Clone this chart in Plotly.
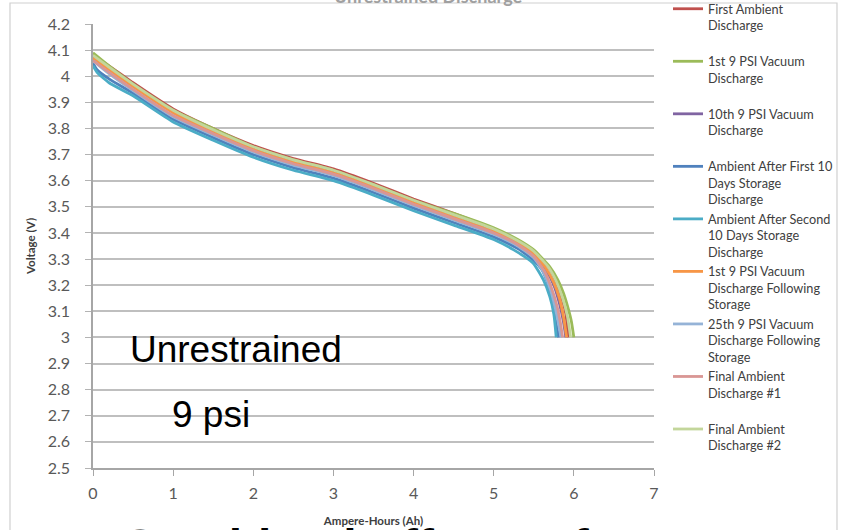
import plotly.graph_objects as go

# ---------------- data ----------------
series_names = [
    "First Ambient<br>Discharge<br> ",
    "1st 9 PSI Vacuum<br>Discharge<br> ",
    "10th 9 PSI Vacuum<br>Discharge<br> ",
    "Ambient After First 10<br>Days Storage<br>Discharge",
    "Ambient After Second<br>10 Days Storage<br>Discharge",
    "1st 9 PSI Vacuum<br>Discharge Following<br>Storage",
    "25th 9 PSI Vacuum<br>Discharge Following<br>Storage",
    "Final Ambient<br>Discharge #1<br> ",
    "Final Ambient<br>Discharge #2<br> ",
]
series_colors = ["#C0504D", "#9BBB59", "#8064A2", "#4F81BD", "#4BACC6",
                 "#F79646", "#95B3D7", "#D99694", "#C3D69B"]

ah_first_ambient = [0, 0.2, 0.5, 1.0, 1.5, 2.0, 2.5, 3.0, 3.5, 4.0, 4.5, 5.0, 5.3, 5.5, 5.7, 5.78, 5.85, 5.9, 5.93]
v_first_ambient = [4.08, 4.04, 3.975, 3.875, 3.80, 3.735, 3.685, 3.645, 3.59, 3.53, 3.475, 3.415, 3.37, 3.33, 3.26, 3.21, 3.15, 3.09, 3.0]

ah_vac_1st = [0, 0.2, 0.5, 1.0, 1.5, 2.0, 2.5, 3.0, 3.5, 4.0, 4.5, 5.0, 5.3, 5.5, 5.7, 5.8, 5.87, 5.93, 5.97, 6.0]
v_vac_1st = [4.09, 4.04, 3.97, 3.87, 3.80, 3.73, 3.68, 3.64, 3.585, 3.525, 3.475, 3.42, 3.375, 3.335, 3.27, 3.22, 3.17, 3.11, 3.06, 3.0]

ah_vac_10th = [0, 0.2, 0.5, 1.0, 1.5, 2.0, 2.5, 3.0, 3.5, 4.0, 4.5, 5.0, 5.3, 5.5, 5.65, 5.75, 5.82, 5.87, 5.9]
v_vac_10th = [4.07, 4.03, 3.965, 3.865, 3.79, 3.725, 3.675, 3.635, 3.58, 3.52, 3.465, 3.405, 3.36, 3.32, 3.26, 3.2, 3.13, 3.06, 3.0]

ah_amb_store1 = [0, 0.05, 0.2, 0.5, 1.0, 1.5, 2.0, 2.5, 3.0, 3.5, 4.0, 4.5, 5.0, 5.3, 5.5, 5.6, 5.68, 5.74, 5.78, 5.81]
v_amb_store1 = [4.05, 4.025, 3.99, 3.935, 3.835, 3.765, 3.70, 3.65, 3.61, 3.555, 3.495, 3.44, 3.385, 3.34, 3.295, 3.26, 3.2, 3.12, 3.05, 3.0]

ah_amb_store2 = [0, 0.05, 0.2, 0.5, 1.0, 1.5, 2.0, 2.5, 3.0, 3.5, 4.0, 4.5, 5.0, 5.25, 5.49, 5.62, 5.70, 5.75, 5.78]
v_amb_store2 = [4.04, 4.015, 3.975, 3.925, 3.825, 3.755, 3.69, 3.64, 3.60, 3.545, 3.485, 3.43, 3.375, 3.335, 3.285, 3.22, 3.156, 3.09, 3.0]

ah_vac_1st_store = [0, 0.2, 0.5, 1.0, 1.5, 2.0, 2.5, 3.0, 3.5, 4.0, 4.5, 5.0, 5.3, 5.5, 5.65, 5.75, 5.82, 5.87, 5.91]
v_vac_1st_store = [4.07, 4.025, 3.96, 3.86, 3.785, 3.72, 3.67, 3.63, 3.575, 3.515, 3.46, 3.405, 3.36, 3.32, 3.265, 3.21, 3.15, 3.08, 3.0]

ah_vac_25th_store = [0, 0.2, 0.5, 1.0, 1.5, 2.0, 2.5, 3.0, 3.5, 4.0, 4.5, 5.0, 5.3, 5.5, 5.62, 5.71, 5.77, 5.81, 5.84]
v_vac_25th_store = [4.06, 4.01, 3.945, 3.845, 3.775, 3.71, 3.66, 3.62, 3.565, 3.505, 3.45, 3.395, 3.35, 3.305, 3.25, 3.18, 3.11, 3.05, 3.0]

ah_final_1 = [0, 0.2, 0.5, 1.0, 1.5, 2.0, 2.5, 3.0, 3.5, 4.0, 4.5, 5.0, 5.3, 5.5, 5.63, 5.72, 5.79, 5.83, 5.86]
v_final_1 = [4.06, 4.015, 3.95, 3.85, 3.78, 3.715, 3.665, 3.625, 3.57, 3.51, 3.455, 3.40, 3.355, 3.31, 3.255, 3.19, 3.12, 3.06, 3.0]

ah_final_2 = [0, 0.2, 0.5, 1.0, 1.5, 2.0, 2.5, 3.0, 3.5, 4.0, 4.5, 5.0, 5.3, 5.5, 5.68, 5.78, 5.86, 5.92, 5.96]
v_final_2 = [4.08, 4.035, 3.97, 3.87, 3.795, 3.73, 3.68, 3.64, 3.585, 3.525, 3.47, 3.415, 3.37, 3.33, 3.27, 3.215, 3.15, 3.08, 3.0]

series_x = [ah_first_ambient, ah_vac_1st, ah_vac_10th, ah_amb_store1, ah_amb_store2,
            ah_vac_1st_store, ah_vac_25th_store, ah_final_1, ah_final_2]
series_y = [v_first_ambient, v_vac_1st, v_vac_10th, v_amb_store1, v_amb_store2,
            v_vac_1st_store, v_vac_25th_store, v_final_1, v_final_2]

x_ticks = [0, 1, 2, 3, 4, 5, 6, 7]
y_ticks = [2.5, 2.6, 2.7, 2.8, 2.9, 3.0, 3.1, 3.2, 3.3, 3.4, 3.5, 3.6, 3.7, 3.8, 3.9, 4.0, 4.1, 4.2]
y_tick_labels = ["2.5", "2.6", "2.7", "2.8", "2.9", "3", "3.1", "3.2", "3.3", "3.4",
                 "3.5", "3.6", "3.7", "3.8", "3.9", "4", "4.1", "4.2"]

# ---------------- figure ----------------
W, H = 845, 530
ML, MR, MT, MB = 93, 191, 24, 62
PW, PH = W - ML - MR, H - MT - MB


def px_x(p):
    return (p - ML) / PW


def px_y(p):
    return (H - MB - p) / PH


fig = go.Figure()
for name, xs, ys, col in zip(series_names, series_x, series_y, series_colors):
    fig.add_trace(go.Scatter(x=xs, y=ys, mode="lines", name=name,
                             line=dict(color=col, width=2.8, shape="spline", smoothing=0.5)))

tick_font = dict(family="Lato, Carlito, sans-serif", size=16, color="#595959")

fig.update_layout(
    width=W, height=H, autosize=False,
    margin=dict(l=ML, r=MR, t=MT, b=MB, pad=0, autoexpand=False),
    paper_bgcolor="white", plot_bgcolor="white",
    showlegend=True,
    legend=dict(xref="container", yref="container",
                x=668 / W, y=(H - 477) / H, xanchor="left", yanchor="bottom",
                font=dict(family="Lato, Carlito, sans-serif", size=12.7, color="#404040"),
                valign="top", tracegroupgap=0, bgcolor="rgba(0,0,0,0)",
                borderwidth=0, itemwidth=30, maxheight=1.0),
    xaxis=dict(range=[0, 7], tickvals=x_ticks, ticks="outside", ticklen=6,
               tickcolor="#a6a6a6", showgrid=False, zeroline=False, automargin=False,
               showline=True, linecolor="#a6a6a6", linewidth=1.5,
               tickfont=tick_font, ticklabelstandoff=4,
               title=dict(text="<b>Ampere-Hours (Ah)</b>", standoff=16,
                          font=dict(family="Lato, Carlito, sans-serif", size=11.5, color="#404040"))),
    yaxis=dict(range=[2.5, 4.2], tickvals=y_ticks, ticktext=y_tick_labels,
               ticks="outside", ticklen=6, tickcolor="#b3b3b3", automargin=False,
               showgrid=True, gridcolor="#bfbfbf", gridwidth=1.5, zeroline=False,
               showline=True, linecolor="#a6a6a6", linewidth=1.5,
               tickfont=tick_font, ticklabelstandoff=12,
               title=dict(text="<b>Voltage (V)</b>", standoff=10,
                          font=dict(family="Lato, Carlito, sans-serif", size=11.5, color="#404040"))),
)

# chart frame
fig.add_shape(type="rect", xref="paper", yref="paper",
              x0=px_x(10), x1=px_x(837), y0=px_y(545), y1=px_y(3),
              line=dict(color="#d0d0d0", width=1.2), fillcolor="rgba(0,0,0,0)", layer="below")

# in-plot labels
fig.add_annotation(x=px_x(128), y=px_y(349), xref="paper", yref="paper",
                   xanchor="left", yanchor="middle", showarrow=False,
                   text="Unrestrained",
                   font=dict(family="Liberation Sans, Arial, sans-serif", size=37, color="black"))
fig.add_annotation(x=px_x(170), y=px_y(414), xref="paper", yref="paper",
                   xanchor="left", yanchor="middle", showarrow=False,
                   text="9 psi",
                   font=dict(family="Liberation Sans, Arial, sans-serif", size=37, color="black"))

# chart title, clipped at the top edge as in the reference
fig.add_annotation(x=px_x(428), y=px_y(9), xref="paper", yref="paper",
                   xanchor="center", yanchor="bottom", showarrow=False,
                   text="<b>Unrestrained Discharge</b>",
                   font=dict(family="Lato, Carlito, sans-serif", size=18, color="#a0a0a0"))

# slide heading, clipped at the bottom edge as in the reference
fig.add_annotation(x=px_x(120), y=px_y(518), xref="paper", yref="paper",
                   xanchor="left", yanchor="top", showarrow=False,
                   text="<b>Combined Effects of Vacuum Testing</b>",
                   font=dict(family="Liberation Sans, Arial, sans-serif", size=48, color="black"))

# remove the browser's default page margin so the figure sits at the window corner
fig.write_html("out.html", config={"displayModeBar": False},
               post_script="document.body.style.margin='0';document.body.style.overflow='hidden';")
